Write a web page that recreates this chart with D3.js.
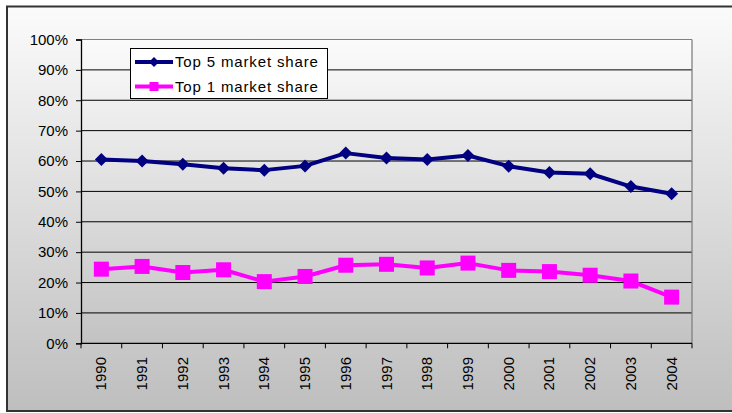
<!DOCTYPE html>
<html><head><meta charset="utf-8">
<script src="https://cdn.jsdelivr.net/npm/d3@7"></script>
<style>html,body{margin:0;padding:0;background:#fff;}svg{display:block;font-family:"Liberation Sans",Arial,sans-serif;}</style>
</head><body><div id="chart"></div>
<script>
const years = ["1990","1991","1992","1993","1994","1995","1996","1997","1998","1999","2000","2001","2002","2003","2004"];
const top5 = [60.5,60.0,58.9,57.6,57.0,58.4,62.6,61.0,60.5,61.8,58.3,56.2,55.8,51.6,49.2];
const top1 = [24.4,25.3,23.3,24.2,20.3,22.0,25.7,26.0,24.8,26.4,24.0,23.6,22.4,20.5,15.2];
const yTicks = [0,10,20,30,40,50,60,70,80,90,100];
const seriesNames = ["Top 5 market share","Top 1 market share"];

(function(){
const W = 732, H = 413;
const svg = d3.select("#chart").append("svg").attr("width", W).attr("height", H);
const defs = svg.append("defs");
const g1 = defs.append("linearGradient").attr("id","bgGrad").attr("x1",0).attr("y1",0).attr("x2",0).attr("y2",1);
g1.append("stop").attr("offset","0%").attr("stop-color","#fbfbfb");
g1.append("stop").attr("offset","100%").attr("stop-color","#bebebe");
const g2 = defs.append("linearGradient").attr("id","plotGrad").attr("x1",0).attr("y1",0).attr("x2",0).attr("y2",1);
g2.append("stop").attr("offset","0%").attr("stop-color","#fbfbfb");
g2.append("stop").attr("offset","100%").attr("stop-color","#c3c3c3");

// outer chart area
svg.append("rect").attr("x",7).attr("y",6.5).attr("width",760).attr("height",404.5)
  .attr("fill","url(#bgGrad)").attr("stroke","#333").attr("stroke-width",2);

const pL = 81, pR = 692, pT = 39.5, pB = 343.3;
const x = d3.scaleBand().domain(years).range([pL, pR]);
const y = d3.scaleLinear().domain([0,100]).range([pB, pT]);

svg.append("rect").attr("x",pL).attr("y",pT).attr("width",pR-pL).attr("height",pB-pT)
  .attr("fill","url(#plotGrad)");

// gridlines
svg.append("g").selectAll("line").data(yTicks.filter(d=>d>0)).join("line")
  .attr("x1",pL).attr("x2",pR).attr("y1",d=>y(d)).attr("y2",d=>y(d))
  .attr("stroke",d=>d===100?"#808080":"#000").attr("stroke-width",1);
// right border
svg.append("line").attr("x1",pR).attr("x2",pR).attr("y1",pT).attr("y2",pB)
  .attr("stroke","#808080").attr("stroke-width",1.3);

// y axis
const yAxis = svg.append("g").attr("transform",`translate(${pL},0)`)
  .call(d3.axisLeft(y).tickValues(yTicks).tickSize(5).tickPadding(8).tickFormat(d=>d+"%"));
yAxis.select(".domain").attr("stroke","#000").attr("stroke-width",1.3);
yAxis.selectAll(".tick line").attr("stroke","#000");
yAxis.selectAll("text").attr("font-size",15).attr("fill","#000").attr("font-family","Liberation Sans, Arial, sans-serif");

// x axis
svg.append("line").attr("x1",pL).attr("x2",pR).attr("y1",pB).attr("y2",pB).attr("stroke","#000").attr("stroke-width",1.3);
const xt = svg.append("g");
xt.selectAll("line").data(years.concat(["end"])).join("line")
  .attr("x1",(d,i)=>pL+i*x.bandwidth()).attr("x2",(d,i)=>pL+i*x.bandwidth())
  .attr("y1",pB).attr("y2",pB+5).attr("stroke","#000");
xt.selectAll("text").data(years).join("text")
  .attr("transform",d=>`translate(${x(d)+x.bandwidth()/2+5},357) rotate(-90)`)
  .attr("text-anchor","end").attr("font-size",15).attr("fill","#000").text(d=>d);

// lines
const cx = d => x(d)+x.bandwidth()/2;
const line = d3.line().x((d,i)=>cx(years[i])).y(d=>y(d));
svg.append("path").datum(top5).attr("d",line).attr("fill","none").attr("stroke","#000080").attr("stroke-width",4).attr("stroke-linejoin","round");
svg.append("path").datum(top1).attr("d",line).attr("fill","none").attr("stroke","#ff00ff").attr("stroke-width",4).attr("stroke-linejoin","round");

function diamondPath(cxp, cyp, r){ return `M${cxp},${cyp-r}L${cxp+r},${cyp}L${cxp},${cyp+r}L${cxp-r},${cyp}Z`; }
svg.append("g").selectAll("path").data(top5).join("path")
  .attr("d",(d,i)=>diamondPath(cx(years[i]), y(d), 6.5)).attr("fill","#000080");
svg.append("g").selectAll("rect").data(top1).join("rect")
  .attr("x",(d,i)=>cx(years[i])-7.5).attr("y",d=>y(d)-7.5).attr("width",15).attr("height",15).attr("fill","#ff00ff");

// legend
const lg = svg.append("g");
lg.append("rect").attr("x",130.5).attr("y",48.5).attr("width",197).attr("height",50).attr("fill","#fff").attr("stroke","#000").attr("stroke-width",1);
const rows = [{name:seriesNames[0], color:"#000080", y:62, shape:"d"},{name:seriesNames[1], color:"#ff00ff", y:86.5, shape:"s"}];
rows.forEach(r=>{
  lg.append("line").attr("x1",135).attr("x2",173).attr("y1",r.y).attr("y2",r.y).attr("stroke",r.color).attr("stroke-width",4);
  if(r.shape==="d") lg.append("path").attr("d",diamondPath(154,r.y,5)).attr("fill",r.color);
  else lg.append("rect").attr("x",149.5).attr("y",r.y-4.5).attr("width",9).attr("height",9).attr("fill",r.color);
  lg.append("text").attr("x",175).attr("y",r.y+5.3).attr("font-size",15).attr("letter-spacing","0.85px").attr("fill","#000").text(r.name);
});
})();
</script></body></html>
